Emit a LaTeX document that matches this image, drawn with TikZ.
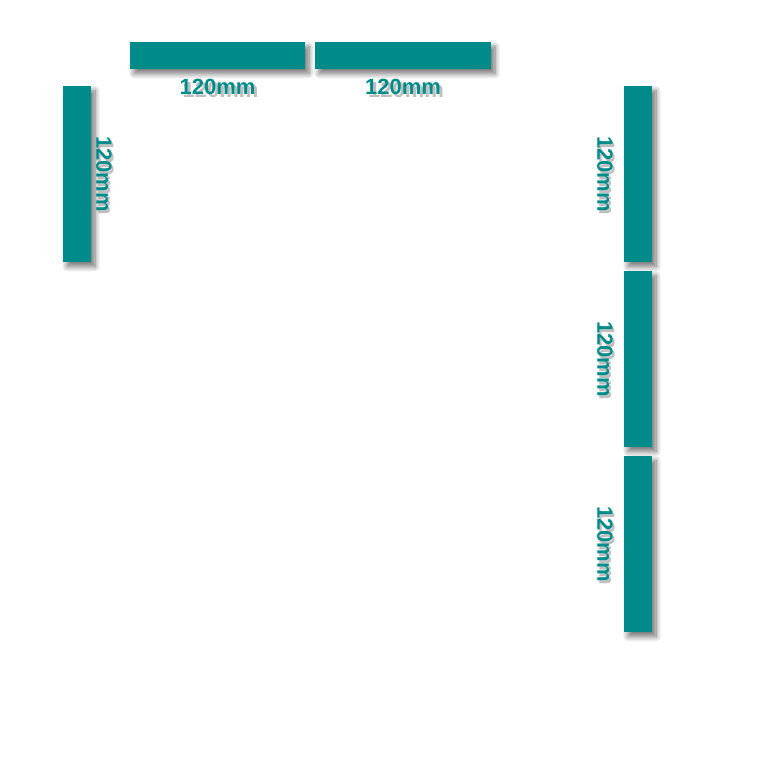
\documentclass[tikz,border=0pt]{standalone}
\usepackage{fontspec}
\setmainfont{Liberation Sans}
\usetikzlibrary{shadows.blur}
\definecolor{barteal}{HTML}{008B8B}
\tikzset{
  bar/.style={fill=barteal,draw=none,blur shadow={shadow xshift=3pt,shadow yshift=-3.5pt,shadow blur steps=10,shadow blur radius=4pt,shadow opacity=55}},
  lbl/.style={text=barteal,font=\bfseries\fontsize{16.5}{18}\selectfont,inner sep=0pt},
  lblshadow/.style={text=black,opacity=0.25,font=\bfseries\fontsize{16.5}{18}\selectfont,inner sep=0pt}
}
\begin{document}
\begin{tikzpicture}[x=0.75pt,y=-0.75pt]
    \useasboundingbox (0,0) rectangle (781,778);
    % horizontal bars
    \foreach \a/\b/\n in {130/305/t1,315/491/t2} {
        \fill[bar] (\a,42) rectangle (\b,69);
        \node[lblshadow] at ({(\a+\b)/2+3},90) {120mm};
        \node[lbl] (\n) at ({(\a+\b)/2},87) {120mm};
    }
    % left bar
    \fill[bar] (63,86) rectangle (91,262);
    \node[lblshadow,rotate=-90] at (106,177) {120mm};
    \node[lbl,rotate=-90] (l1) at (104,174) {120mm};
    % right bars
    \foreach \a/\n in {86/r1,271/r2,456/r3} {
        \fill[bar] (624,\a) rectangle (652,\a+176);
        \node[lblshadow,rotate=-90] at (607,\a+91) {120mm};
        \node[lbl,rotate=-90] (\n) at (605,\a+88) {120mm};
    }
\end{tikzpicture}
\end{document}
